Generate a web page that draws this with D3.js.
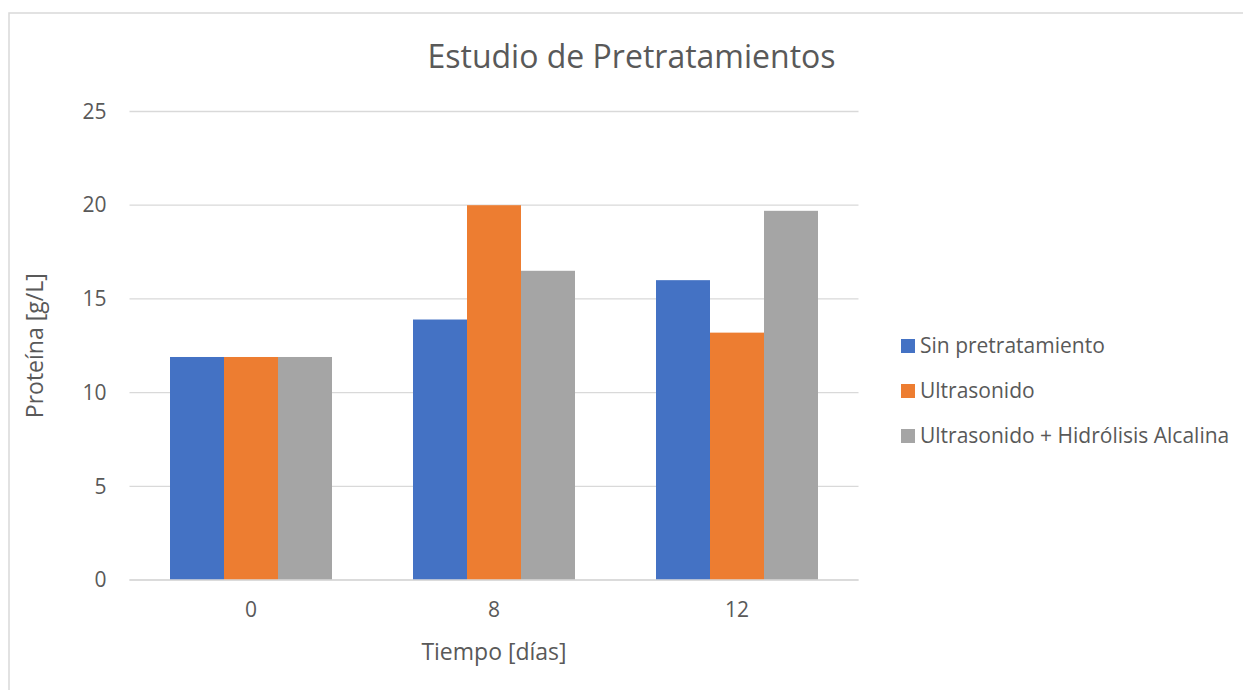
<!DOCTYPE html>
<html>
<head>
<meta charset="utf-8">
<script src="https://cdn.jsdelivr.net/npm/d3@7"></script>
<style>
  html, body { margin: 0; padding: 0; background: #fff; }
  svg { display: block; }
  text { font-family: "Open Sans", "Noto Sans", sans-serif; fill: #595959; }
</style>
</head>
<body>
<svg id="chart" width="1243" height="690"></svg>
<script>
// Protein concentration per sampling day and pretreatment
const categories = ["0", "8", "12"];
const seriesNames = ["Sin pretratamiento", "Ultrasonido", "Ultrasonido + Hidrólisis Alcalina"];
const sinPretratamiento = [11.9, 13.9, 16.0];
const ultrasonido = [11.9, 20.0, 13.2];
const ultrasonidoHidrolisis = [11.9, 16.5, 19.7];
const yTicks = [0, 5, 10, 15, 20, 25];
const colors = ["#4472C4", "#ED7D31", "#A5A5A5"];

const seriesValues = [sinPretratamiento, ultrasonido, ultrasonidoHidrolisis];
const rows = categories.map((c, i) => ({
  cat: c,
  vals: seriesNames.map((s, k) => ({ key: s, value: seriesValues[k][i] }))
}));

const svg = d3.select("#chart");

// Chart frame
svg.append("rect")
  .attr("x", 9).attr("y", 13)
  .attr("width", 1260).attr("height", 700)
  .attr("fill", "none")
  .attr("stroke", "#d9d9d9")
  .attr("stroke-width", 1.5);

const plot = { left: 129.5, right: 858.5, top: 111.5, bottom: 580 };

const x0 = d3.scaleBand()
  .domain(categories)
  .range([plot.left, plot.right])
  .paddingInner(1 / 3)
  .paddingOuter(1 / 6);

const x1 = d3.scaleBand()
  .domain(seriesNames)
  .range([0, x0.bandwidth()]);

const y = d3.scaleLinear()
  .domain([0, 25])
  .range([plot.bottom, plot.top]);

// Horizontal gridlines
svg.append("g")
  .selectAll("line")
  .data(yTicks)
  .join("line")
  .attr("x1", plot.left).attr("x2", plot.right)
  .attr("y1", d => y(d)).attr("y2", d => y(d))
  .attr("stroke", "#d9d9d9")
  .attr("stroke-width", 1.3);

// Y axis tick labels
const yAxis = d3.axisLeft(y).tickValues(yTicks).tickSize(0).tickPadding(0);
const yg = svg.append("g")
  .attr("transform", `translate(${plot.left - 23},0)`)
  .call(yAxis);
yg.select(".domain").remove();
yg.selectAll("text")
  .attr("font-size", 21)
  .attr("fill", "#595959")
  .style("font-family", "'Open Sans', 'Noto Sans', sans-serif");

// Bars
svg.append("g")
  .selectAll("g")
  .data(rows)
  .join("g")
  .attr("transform", d => `translate(${x0(d.cat)},0)`)
  .selectAll("rect")
  .data(d => d.vals)
  .join("rect")
  .attr("x", d => x1(d.key))
  .attr("width", x1.bandwidth())
  .attr("y", d => y(d.value))
  .attr("height", d => y(0) - y(d.value))
  .attr("fill", (d, i) => colors[i]);

// X axis line and tick labels
svg.append("line")
  .attr("x1", plot.left).attr("x2", plot.right)
  .attr("y1", y(0)).attr("y2", y(0))
  .attr("stroke", "#d9d9d9")
  .attr("stroke-width", 1.3);

const xAxis = d3.axisBottom(x0).tickSize(0).tickPadding(0);
const xg = svg.append("g")
  .attr("transform", `translate(0,${plot.bottom + 22})`)
  .call(xAxis);
xg.select(".domain").remove();
xg.selectAll("text")
  .attr("font-size", 21)
  .attr("fill", "#595959")
  .style("font-family", "'Open Sans', 'Noto Sans', sans-serif");

// Title
svg.append("text")
  .attr("x", 631.5)
  .attr("y", 68)
  .attr("text-anchor", "middle")
  .attr("font-size", 32)
  .text("Estudio de Pretratamientos");

// Axis titles
svg.append("text")
  .attr("x", (plot.left + plot.right) / 2)
  .attr("y", 660)
  .attr("text-anchor", "middle")
  .attr("font-size", 23)
  .text("Tiempo [días]");

svg.append("text")
  .attr("transform", `translate(43,${(plot.top + plot.bottom) / 2}) rotate(-90)`)
  .attr("text-anchor", "middle")
  .attr("font-size", 23)
  .text("Proteína [g/L]");

// Legend
const legend = svg.append("g")
  .selectAll("g")
  .data(seriesNames)
  .join("g")
  .attr("transform", (d, i) => `translate(901,${346 + i * 45})`);
legend.append("rect")
  .attr("x", 0).attr("y", -7)
  .attr("width", 14).attr("height", 14)
  .attr("fill", (d, i) => colors[i]);
legend.append("text")
  .attr("x", 19).attr("y", 0)
  .attr("dy", "0.35em")
  .attr("font-size", 21)
  .text(d => d);
</script>
</body>
</html>
